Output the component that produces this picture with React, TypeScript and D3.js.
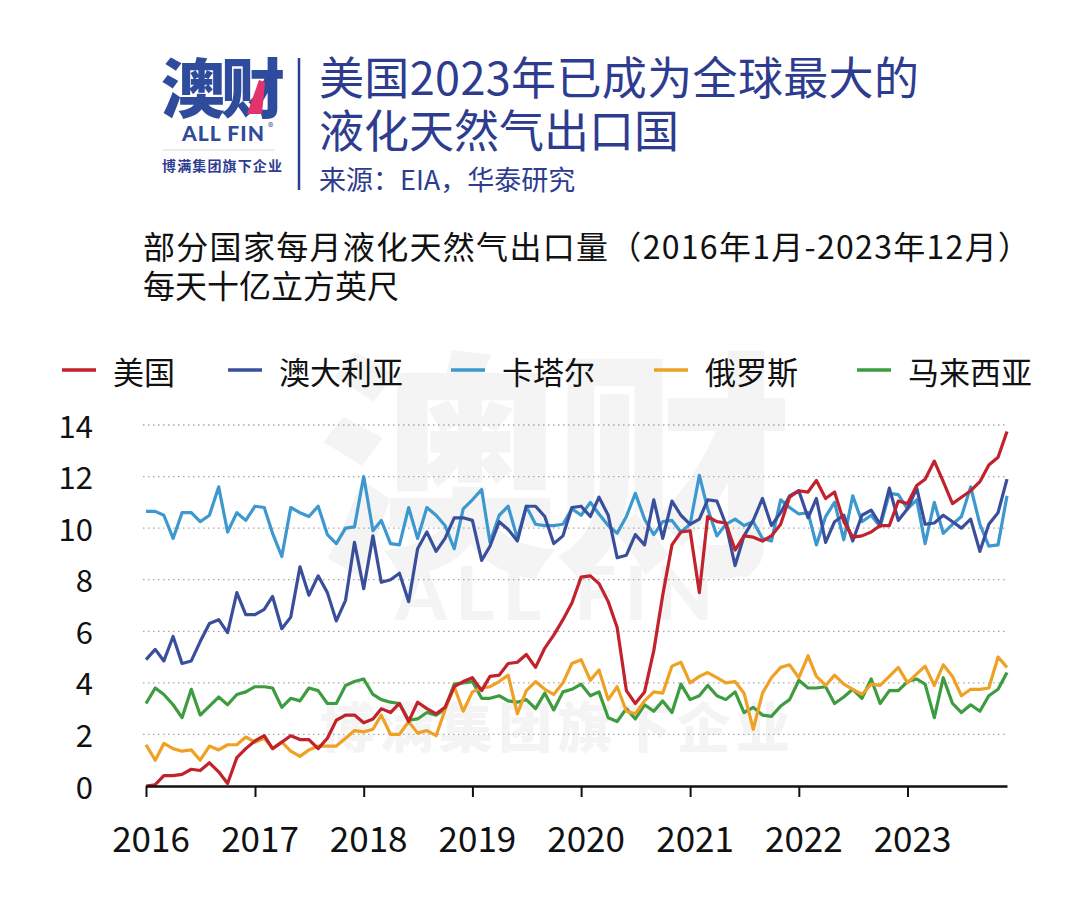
import { useEffect, useRef } from 'react'
import * as d3 from 'd3'

// monthly LNG exports, Bcf/d, 2016-01 .. 2023-12
const YEARS = ['2016', '2017', '2018', '2019', '2020', '2021', '2022', '2023']
const Y_TICKS = [0, 2, 4, 6, 8, 10, 12, 14]

const US = [
  0.0, 0.05, 0.4, 0.4, 0.45, 0.65, 0.6, 0.9, 0.55, 0.1, 1.1, 1.45,
  1.75, 1.95, 1.45, 1.7, 1.95, 1.8, 1.8, 1.45, 1.85, 2.55, 2.75, 2.75,
  2.45, 2.6, 3.0, 2.85, 3.2, 2.5, 3.25, 3.0, 2.8, 3.05, 3.85, 4.05,
  4.2, 3.7, 4.25, 4.3, 4.75, 4.8, 5.1, 4.6, 5.35, 5.85, 6.45, 7.1,
  8.1, 8.15, 7.85, 7.15, 6.15, 3.7, 3.2, 3.65, 5.25, 7.4, 9.35, 9.85,
  9.9, 7.5, 10.45, 10.25, 10.2, 9.15, 9.7, 9.65, 9.5, 9.7, 10.15, 11.2,
  11.45, 11.4, 11.85, 11.15, 11.4, 10.25, 9.65, 9.7, 9.85, 10.1, 10.1, 11.05,
  10.95, 11.65, 11.9, 12.6, 11.8, 10.95, 11.2, 11.45, 11.8, 12.45, 12.75, 13.75,
]
const AUSTRALIA = [
  4.9, 5.3, 4.85, 5.8, 4.75, 4.85, 5.6, 6.3, 6.45, 5.95, 7.5, 6.65,
  6.65, 6.85, 7.35, 6.1, 6.55, 8.5, 7.4, 8.15, 7.5, 6.4, 7.2, 9.45,
  7.65, 9.7, 7.9, 8.0, 8.25, 7.15, 9.2, 9.85, 9.1, 9.6, 10.4, 10.4,
  10.3, 8.75, 9.3, 10.25, 9.95, 9.5, 10.85, 10.85, 10.45, 9.4, 9.7, 10.8,
  10.85, 10.45, 11.2, 10.5, 8.85, 8.95, 9.75, 9.35, 11.1, 9.6, 11.05, 10.5,
  10.15, 10.35, 11.1, 11.05, 10.15, 8.55, 9.7, 10.3, 11.15, 10.1, 10.6, 11.25,
  11.45, 10.4, 11.15, 9.45, 10.25, 10.5, 9.5, 10.5, 10.7, 10.15, 11.55, 10.3,
  10.75, 11.55, 10.15, 10.2, 10.5, 10.25, 10.0, 10.35, 9.1, 10.15, 10.6, 11.9,
]
const QATAR = [
  10.65, 10.65, 10.5, 9.6, 10.6, 10.6, 10.25, 10.5, 11.6, 9.85, 10.6, 10.3,
  10.85, 10.8, 9.8, 8.9, 10.8, 10.6, 10.45, 10.85, 9.75, 9.4, 10.0, 10.05,
  12.0, 9.9, 10.3, 9.4, 9.35, 10.8, 9.6, 10.8, 10.5, 10.1, 9.2, 10.75,
  11.1, 11.5, 9.45, 10.5, 10.85, 9.6, 10.85, 10.15, 10.1, 10.1, 10.15, 10.75,
  10.5, 11.0, 10.55, 10.1, 9.8, 10.45, 11.35, 10.35, 9.75, 10.25, 10.3, 9.85,
  10.15, 12.05, 10.75, 9.7, 10.15, 10.35, 10.1, 10.25, 9.6, 9.5, 11.1, 10.8,
  10.55, 10.6, 9.35, 10.45, 11.0, 9.55, 11.25, 10.25, 10.5, 10.05, 11.35, 11.3,
  10.75, 11.1, 9.4, 11.0, 9.8, 10.15, 10.45, 11.6, 10.15, 9.3, 9.35, 11.25,
]
const RUSSIA = [
  1.6, 1.0, 1.65, 1.45, 1.35, 1.4, 1.0, 1.55, 1.4, 1.6, 1.6, 1.9,
  1.7, 1.85, 1.45, 1.7, 1.35, 1.15, 1.4, 1.55, 1.55, 1.55, 1.85, 2.15,
  2.1, 2.2, 2.75, 2.0, 2.0, 2.5, 2.05, 2.15, 1.95, 2.95, 3.85, 2.9,
  3.65, 3.8, 3.85, 4.05, 4.3, 2.8, 3.7, 4.05, 3.75, 3.55, 4.0, 4.75,
  4.9, 4.1, 4.5, 3.35, 3.85, 2.9, 2.8, 3.3, 3.65, 3.6, 4.65, 4.8,
  4.0, 4.25, 4.4, 4.2, 4.0, 4.05, 3.6, 2.2, 3.6, 4.2, 4.6, 4.7,
  4.2, 5.05, 4.25, 3.9, 4.3, 3.95, 3.75, 3.55, 3.95, 3.9, 4.25, 4.6,
  4.0, 4.35, 4.65, 3.9, 4.7, 4.25, 3.5, 3.75, 3.75, 3.8, 5.0, 4.6,
]
const MALAYSIA = [
  3.2, 3.8, 3.55, 3.15, 2.65, 3.75, 2.75, 3.1, 3.45, 3.15, 3.55, 3.65,
  3.85, 3.85, 3.8, 3.05, 3.4, 3.3, 3.8, 3.7, 3.2, 3.2, 3.9, 4.05,
  4.15, 3.55, 3.35, 3.25, 3.2, 2.55, 2.6, 2.85, 2.75, 3.0, 3.95, 4.0,
  4.05, 3.4, 3.4, 3.5, 3.3, 3.25, 3.35, 3.0, 3.6, 2.95, 3.65, 3.75,
  3.95, 3.5, 3.65, 2.65, 2.5, 3.0, 2.6, 3.15, 2.9, 3.3, 2.85, 3.95,
  3.35, 3.5, 3.9, 3.5, 3.35, 3.65, 2.85, 3.05, 2.75, 2.7, 3.1, 3.35,
  4.1, 3.8, 3.8, 3.85, 3.2, 3.45, 3.75, 3.4, 4.15, 3.2, 3.7, 3.7,
  4.05, 4.15, 3.95, 2.65, 4.2, 3.2, 2.85, 3.15, 2.9, 3.5, 3.75, 4.4,
]

const SERIES = [
  { name: '美国', color: '#c1222b', values: US },
  { name: '澳大利亚', color: '#3a4f9c', values: AUSTRALIA },
  { name: '卡塔尔', color: '#3c98cf', values: QATAR },
  { name: '俄罗斯', color: '#efa125', values: RUSSIA },
  { name: '马来西亚', color: '#3d9c3f', values: MALAYSIA },
]

const NAVY = '#2e3c8f'
const FONT = '"Noto Sans CJK SC", "Noto Sans", sans-serif'

export default function App() {
  const ref = useRef<SVGSVGElement>(null)

  useEffect(() => {
    const svg = d3.select(ref.current)
    svg.selectAll('*').remove()

    const width = 1080
    const height = 912
    svg.attr('viewBox', `0 0 ${width} ${height}`).attr('width', width).attr('height', height)
    svg.append('rect').attr('width', width).attr('height', height).attr('fill', '#fff')

    // ---- watermark (behind everything)
    const wm = svg.append('g').style('font-family', FONT).attr('fill', '#f4f4f4').attr('font-weight', 900)
    wm.append('text').attr('x', 318).attr('y', 556).attr('font-size', 240).attr('textLength', 475).text('澳财')
    wm.append('text').attr('x', 395).attr('y', 620).attr('font-size', 74).attr('font-family', 'Lato, sans-serif')
      .attr('textLength', 318).text('ALL FIN')
    wm.append('text').attr('x', 735).attr('y', 590).attr('font-size', 36).text('®')
    wm.append('text').attr('x', 320).attr('y', 748).attr('font-size', 54).attr('textLength', 470).text('博满集团旗下企业')

    // ---- header / logo
    const head = svg.append('g').style('font-family', FONT)
    head.append('text').attr('x', 161).attr('y', 112).attr('font-size', 64).attr('font-weight', 900)
      .attr('fill', '#2f4b9b').attr('textLength', 124).text('澳财')
    head.append('path').attr('d', 'M247,114 L259,80 L265,82 L262,114 Z').attr('fill', '#e2336b')
    head.append('text').attr('x', 182).attr('y', 141).attr('font-size', 21).attr('font-weight', 900)
      .attr('fill', '#2f4b9b').attr('font-family', 'Lato, sans-serif').attr('textLength', 82).text('ALL FIN')
    head.append('text').attr('x', 268).attr('y', 131).attr('font-size', 11).attr('fill', '#2f4b9b').text('®')
    head.append('line').attr('x1', 163).attr('x2', 274).attr('y1', 150).attr('y2', 150)
      .attr('stroke', '#d8d8d8').attr('stroke-width', 1)
    head.append('text').attr('x', 162).attr('y', 171).attr('font-size', 14).attr('font-weight', 700)
      .attr('fill', NAVY).attr('textLength', 120).text('博满集团旗下企业')
    head.append('line').attr('x1', 299).attr('x2', 299).attr('y1', 58).attr('y2', 190)
      .attr('stroke', NAVY).attr('stroke-width', 2.5)

    head.append('text').attr('x', 319).attr('y', 95).attr('font-size', 45).attr('font-weight', 400)
      .attr('fill', NAVY).attr('textLength', 600).text('美国2023年已成为全球最大的')
    head.append('text').attr('x', 319).attr('y', 148).attr('font-size', 45).attr('font-weight', 400)
      .attr('fill', NAVY).text('液化天然气出口国')
    head.append('text').attr('x', 319).attr('y', 190).attr('font-size', 27)
      .attr('fill', NAVY).text('来源：EIA，华泰研究')

    head.append('text').attr('x', 143).attr('y', 259).attr('font-size', 32).attr('fill', '#111')
      .attr('textLength', 887).text('部分国家每月液化天然气出口量（2016年1月-2023年12月）')
    head.append('text').attr('x', 143).attr('y', 298).attr('font-size', 32).attr('fill', '#111')
      .text('每天十亿立方英尺')

    // ---- scales
    const months = d3.timeMonth.range(new Date(2016, 0, 1), new Date(2024, 0, 1))
    const x = d3.scaleTime().domain([months[0], months[months.length - 1]]).range([146, 1007])
    const y = d3.scaleLinear().domain([0, 14]).range([786, 425])

    const g = svg.append('g').style('font-family', FONT)

    // grid
    g.selectAll('.grid').data(Y_TICKS.filter(t => t > 0)).join('line')
      .attr('x1', 143).attr('x2', 1007)
      .attr('y1', d => y(d)).attr('y2', d => y(d))
      .attr('stroke', '#a8a8a8').attr('stroke-width', 1.3).attr('stroke-dasharray', '1.5,3.5')

    // y labels
    g.selectAll('.ylab').data(Y_TICKS).join('text')
      .attr('x', 93).attr('y', d => y(d) - 1)
      .attr('text-anchor', 'end').attr('dominant-baseline', 'central')
      .attr('font-size', 31).attr('fill', '#111').text(d => d)

    // lines
    const line = d3.line<number>().x((_, i) => x(months[i])).y(d => y(d))
    const order = [...SERIES].reverse()
    g.selectAll('.series').data(order).join('path')
      .attr('d', d => line(d.values))
      .attr('fill', 'none').attr('stroke', d => d.color)
      .attr('stroke-width', 3.2).attr('stroke-linejoin', 'round')

    // x axis
    const yearDates = YEARS.map(yr => new Date(+yr, 0, 1))
    const axis = g.append('g').attr('transform', 'translate(0,786)')
      .call(d3.axisBottom(x).tickValues(yearDates).tickSize(11).tickSizeOuter(0).tickFormat(() => ''))
    axis.select('.domain').attr('stroke', '#111').attr('stroke-width', 2.5)
    axis.selectAll('.tick line').attr('stroke', '#111').attr('stroke-width', 2)
    g.selectAll('.xlab').data(YEARS).join('text')
      .attr('x', d => x(new Date(+d, 0, 1)) + 5).attr('y', 852)
      .attr('text-anchor', 'middle').attr('font-size', 35).attr('fill', '#111').text(d => d)

    // legend
    const LEG_X = [62, 228, 451, 654, 857]
    const leg = g.selectAll('.leg').data(SERIES).join('g')
      .attr('transform', (_, i) => `translate(${LEG_X[i]},370)`)
    leg.append('line').attr('x1', 0).attr('x2', 34).attr('stroke', d => d.color).attr('stroke-width', 3.5)
    leg.append('text').attr('x', 51).attr('dominant-baseline', 'central')
      .attr('font-size', 31).attr('fill', '#111').text(d => d.name)
  }, [])

  return (
    <div style={{ position: 'absolute', left: 0, top: 0 }}>
      <svg ref={ref} style={{ display: 'block' }} />
    </div>
  )
}
